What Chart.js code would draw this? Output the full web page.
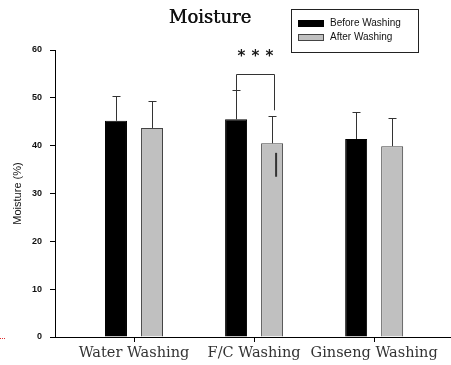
<!DOCTYPE html>
<html>
<head>
<meta charset="utf-8">
<script src="https://cdn.jsdelivr.net/npm/chart.js@4/dist/chart.umd.min.js"></script>
<style>
  html, body { margin: 0; padding: 0; background: #fff; overflow: hidden; }
  canvas { display: block; }
</style>
</head>
<body>
<canvas id="chart" width="451" height="365"></canvas>
<script>
let categories = ['Water Washing', 'F/C Washing', 'Ginseng Washing']
let seriesNames = ['Before Washing', 'After Washing']
let beforeValues = [45.2, 45.5, 41.4]
let afterValues = [43.7, 40.5, 39.9]
// top of each error bar (mean + SD)
let beforeErrTop = [50.4, 51.6, 47.0]
let afterErrTop = [49.3, 46.3, 45.7]
let yTicks = [0, 10, 20, 30, 40, 50, 60]
// significance bracket for F/C Washing
let sigCategory = 1
let sigBracket = {top: 55.0, leftBottom: 51.6, rightBottom: 47.4}
let sigStars = 3
// stray dark mark inside the F/C after bar
let strayMark = [38.5, 33.5]

function toPoints(values) {
  return values.map((v, i) => ({x: i, y: v}))
}

let extras = {
  id: 'extras',
  afterDatasetsDraw(chart) {
    let ctx = chart.ctx
    let y = chart.scales.y
    let metaB = chart.getDatasetMeta(0)
    let metaA = chart.getDatasetMeta(1)
    ctx.save()
    ctx.strokeStyle = '#333'
    ctx.lineWidth = 1

    // error bars (upper only)
    let drawErr = (meta, tops) => {
      meta.data.forEach((bar, i) => {
        let cx = Math.round(bar.x) + 0.5
        let yt = Math.round(y.getPixelForValue(tops[i])) + 0.5
        ctx.beginPath()
        ctx.moveTo(cx, bar.y)
        ctx.lineTo(cx, yt)
        ctx.moveTo(cx - 4, yt)
        ctx.lineTo(cx + 4, yt)
        ctx.stroke()
      })
    }
    drawErr(metaB, beforeErrTop)
    drawErr(metaA, afterErrTop)

    // bracket
    let lx = Math.round(metaB.data[sigCategory].x) + 0.5
    let rx = Math.round(metaA.data[sigCategory].x) + 2.5
    let ty = Math.round(y.getPixelForValue(sigBracket.top)) + 0.5
    ctx.beginPath()
    ctx.moveTo(lx, y.getPixelForValue(sigBracket.leftBottom))
    ctx.lineTo(lx, ty)
    ctx.lineTo(rx, ty)
    ctx.lineTo(rx, y.getPixelForValue(sigBracket.rightBottom))
    ctx.stroke()
    ctx.fillStyle = '#1a1a1a'
    ctx.font = 'bold 15px "DejaVu Sans"'
    ctx.textAlign = 'center'
    ctx.textBaseline = 'middle'
    let mid = (lx + rx) / 2
    for (let k = 0; k < sigStars; ++k)
      ctx.fillText('*', mid + (k - (sigStars - 1) / 2) * 14, ty - 17)

    // stray mark
    let sx = metaA.data[sigCategory].x + 4
    ctx.lineWidth = 2
    ctx.beginPath()
    ctx.moveTo(sx, y.getPixelForValue(strayMark[0]))
    ctx.lineTo(sx, y.getPixelForValue(strayMark[1]))
    ctx.stroke()

    // title
    ctx.fillStyle = '#111'
    ctx.font = '18px "DejaVu Serif"'
    ctx.textAlign = 'center'
    ctx.fillText('Moisture', 210, 18)
    ctx.fillText('Moisture', 210.4, 18)

    // legend box
    ctx.lineWidth = 1
    ctx.strokeStyle = '#222'
    ctx.strokeRect(291.5, 9.5, 127, 43)
    let ds = chart.data.datasets
    let rows = [22, 36]
    ds.forEach((d, i) => {
      ctx.fillStyle = d.backgroundColor
      ctx.fillRect(298, rows[i] - 2, 26, 7)
      ctx.strokeStyle = d.borderColor
      ctx.strokeRect(298.5, rows[i] - 1.5, 25, 6)
      ctx.fillStyle = '#111'
      ctx.font = '10px "Liberation Sans"'
      ctx.textAlign = 'left'
      ctx.fillText(d.label, 330, rows[i] + 1.5)
    })

    // small red dotted mark at far left
    ctx.strokeStyle = '#e03030'
    ctx.setLineDash([1, 1])
    ctx.beginPath()
    ctx.moveTo(0, 338.5)
    ctx.lineTo(6, 338.5)
    ctx.stroke()
    ctx.restore()
  },
}

let ctx = document.getElementById('chart').getContext('2d')
let chart = new Chart(ctx, {
  type: 'bar',
  data: {
    datasets: [
      {
        label: seriesNames[0],
        data: toPoints(beforeValues),
        backgroundColor: '#000',
        borderColor: '#000',
        borderWidth: 1,
        categoryPercentage: 0.6,
        barPercentage: 0.61,
      },
      {
        label: seriesNames[1],
        data: toPoints(afterValues),
        backgroundColor: '#c0c0c0',
        borderColor: '#444',
        borderWidth: 1,
        categoryPercentage: 0.6,
        barPercentage: 0.61,
      },
    ],
  },
  options: {
    responsive: false,
    animation: false,
    devicePixelRatio: 1,
    layout: {padding: {top: 50, left: 0, right: 0, bottom: 0}},
    plugins: {
      legend: {display: false},
      tooltip: {enabled: false},
    },
    scales: {
      x: {
        type: 'linear',
        min: -0.658,
        max: 2.64,
        offset: false,
        afterBuildTicks: (s) => { s.ticks = categories.map((c, i) => ({value: i})) },
        afterFit: (s) => { s.height = 28 },
        grid: {drawOnChartArea: false, offset: false, tickLength: 5, color: '#000'},
        border: {color: '#000', width: 1},
        ticks: {
          callback: (v) => categories[v],
          color: '#333',
          font: {family: '"DejaVu Serif"', size: 14.5},
          padding: 3,
          maxRotation: 0,
          autoSkip: false,
        },
      },
      y: {
        min: 0,
        max: 60,
        afterBuildTicks: (s) => { s.ticks = yTicks.map(v => ({value: v})) },
        afterFit: (s) => { s.width = 55 },
        grid: {drawOnChartArea: false, tickLength: 5, color: '#000'},
        border: {color: '#000', width: 1},
        ticks: {
          color: '#111',
          font: {family: '"Liberation Sans Narrow", "Liberation Sans"', size: 9, weight: 'bold'},
          padding: 8,
        },
        title: {
          display: true,
          text: 'Moisture (%)',
          color: '#111',
          font: {family: '"Liberation Sans"', size: 11},
          padding: {top: 11, bottom: 0},
        },
      },
    },
  },
  plugins: [extras],
})
</script>
</body>
</html>
